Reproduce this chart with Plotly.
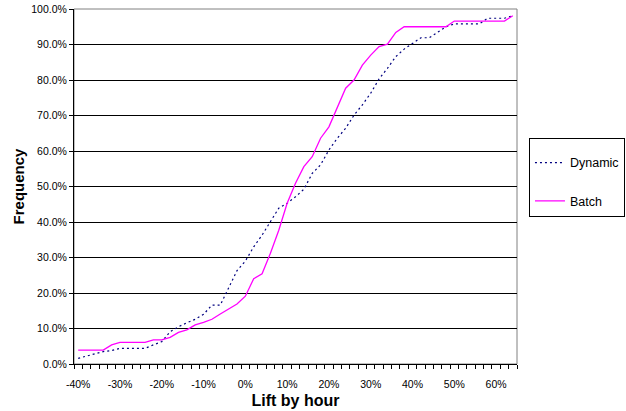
import plotly.graph_objects as go

# Categories: lift by hour, in percent (-40% .. 64%, step 2%)
lift = list(range(-40, 66, 2))

dynamic = [1.6, 2.3, 2.8, 3.5, 3.8, 4.4, 4.4, 4.4, 4.4, 5.4,
           6.3, 9.1, 10.5, 11.6, 12.6, 14.0, 16.6, 16.6, 21.6, 26.3,
           29.0, 33.0, 36.3, 40.1, 43.9, 45.3, 47.1, 49.2, 53.7, 56.1,
           60.3, 63.6, 66.4, 70.1, 73.0, 76.3, 80.3, 83.3, 86.6, 88.7,
           90.3, 91.9, 91.9, 93.4, 95.0, 95.8, 95.8, 95.8, 95.8, 97.4,
           97.4, 97.4, 98.1]

batch = [3.9, 3.9, 3.9, 3.9, 5.4, 6.1, 6.1, 6.1, 6.1, 6.8,
         6.8, 7.5, 8.9, 9.6, 11.0, 11.7, 12.6, 14.1, 15.5, 16.9,
         19.1, 24.0, 25.4, 31.2, 37.7, 45.3, 50.9, 55.6, 58.4, 63.6,
         66.8, 72.5, 77.7, 80.0, 84.2, 87.0, 89.4, 90.1, 93.4, 95.0,
         95.0, 95.0, 95.0, 95.0, 95.0, 96.6, 96.6, 96.6, 96.6, 96.6,
         96.6, 96.6, 98.1]

x_tickvals = [-40, -30, -20, -10, 0, 10, 20, 30, 40, 50, 60]
x_ticktext = ["-40%", "-30%", "-20%", "-10%", "0%", "10%", "20%", "30%", "40%", "50%", "60%"]

FONT = "Liberation Sans, Arial, sans-serif"

fig = go.Figure()
fig.add_trace(go.Scatter(
    x=lift, y=[v / 100 for v in dynamic], mode="lines", name="Dynamic",
    legendgroup="d", line=dict(color="#000080", width=1.2, dash="2px,3px")))
fig.add_trace(go.Scatter(
    x=lift, y=[v / 100 for v in batch], mode="lines", name="Batch",
    legendgroup="b", line=dict(color="#FF00FF", width=1.3)))

fig.update_layout(
    width=626, height=411,
    margin=dict(l=74, r=109, t=9, b=47, autoexpand=False),
    paper_bgcolor="white", plot_bgcolor="white",
    font=dict(family=FONT, size=10.5, color="black"),
    showlegend=True,
    legend=dict(x=1.027, y=0.637, xanchor="left", yanchor="top",
                bordercolor="black", borderwidth=1,
                font=dict(family=FONT, size=12.5, color="black"),
                title=dict(text=" ", font=dict(family=FONT, size=7)),
                tracegroupgap=19, traceorder="grouped",
                itemwidth=30),
    shapes=[dict(type="rect", xref="paper", yref="paper", x0=0, x1=1, y0=0, y1=1,
                 line=dict(color="#808080", width=1), layer="below")],
)

fig.update_xaxes(
    range=[-41, 65], showgrid=False, zeroline=False, automargin=False,
    showline=True, linecolor="black", linewidth=1,
    tickmode="array", tickvals=x_tickvals, ticktext=x_ticktext,
    ticks="", ticklabelstandoff=10,
    tickfont=dict(family=FONT, size=10.5, color="black"),
    minor=dict(tick0=-41, dtick=2, ticks="outside", ticklen=4,
               tickcolor="black", tickwidth=1, showgrid=False),
    title=dict(text="<b>Lift by hour</b>", font=dict(family=FONT, size=16, color="black"),
               standoff=6),
)

fig.update_yaxes(
    range=[0, 1], dtick=0.1, tick0=0, tickformat=".1%",
    showgrid=True, gridcolor="black", gridwidth=1, zeroline=False, automargin=False,
    showline=True, linecolor="black", linewidth=1,
    ticks="outside", ticklen=4, tickcolor="black",
    tickfont=dict(family=FONT, size=10.5, color="black"),
    title=dict(text="<b>Frequency</b>", font=dict(family=FONT, size=15, color="black"),
               standoff=3),
)

fig.write_html("out.html")
